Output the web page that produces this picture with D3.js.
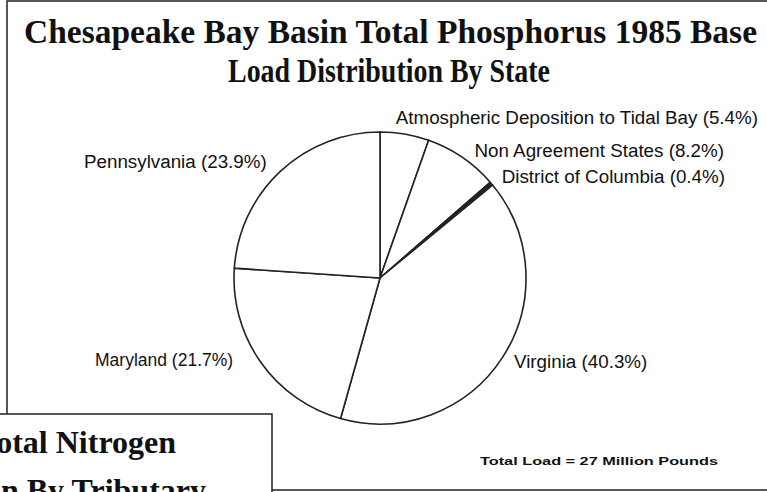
<!DOCTYPE html>
<html>
<head>
<meta charset="utf-8">
<script src="https://cdn.jsdelivr.net/npm/d3@7"></script>
<style>
  body { margin: 0; background: #fff; }
  svg { display: block; }
</style>
</head>
<body>
<svg id="chart" width="767" height="492"></svg>
<script>
// phosphorus share by state, clockwise from 12 o'clock
var states = ["Atmospheric Deposition to Tidal Bay", "Non Agreement States", "District of Columbia",
              "Virginia", "Maryland", "Pennsylvania"];
var shares = [5.4, 8.2, 0.4, 40.3, 21.7, 23.9];
var titleLines = ["Chesapeake Bay Basin Total Phosphorus 1985 Base", "Load Distribution By State"];
var totalNote = "Total Load = 27 Million Pounds";
var nextTitle = ["Chesapeake Bay Basin Total Nitrogen", "1985 Base Load Distribution By Tributary"];

// where each label sits (hand placed, like the original)
var labelPos = {
  "Atmospheric Deposition to Tidal Bay": [758, 124, "end"],
  "Non Agreement States": [724, 157, "end"],
  "District of Columbia": [725, 183, "end"],
  "Virginia": [514, 368, "start"],
  "Maryland": [95, 366, "start"],
  "Pennsylvania": [84, 168, "start"]
};

var data = states.map((d, i) => ({ name: d, value: shares[i] }));

var svg = d3.select("#chart");

// main frame
svg.append("rect")
    .attr("x", 7).attr("y", 1)
    .attr("width", 800).attr("height", 489)
    .attr("fill", "#fff")
    .attr("stroke", "#222").attr("stroke-width", 1.5);

// title
svg.selectAll("text.title")
    .data(titleLines)
    .enter()
    .append("text")
    .attr("class", "title")
    .attr("x", (d, i) => i == 0 ? 24 : 228)
    .attr("y", (d, i) => 43 + i * 39)
    .attr("textLength", (d, i) => i == 0 ? 733 : 322)
    .attr("lengthAdjust", "spacingAndGlyphs")
    .style("font-family", "'Liberation Serif', 'DejaVu Serif', serif")
    .style("font-weight", "bold")
    .style("font-size", "34px")
    .attr("fill", "#111")
    .text(d => d);

// pie
var cx = 380, cy = 278, r = 146;

var pie = d3.pie()
    .sort(null)
    .value(d => d.value);

var arc = d3.arc()
    .innerRadius(0)
    .outerRadius(r);

var pieG = svg.append("g")
    .attr("transform", "translate(" + cx + "," + cy + ")");

pieG.selectAll("path")
    .data(pie(data))
    .enter()
    .append("path")
    .attr("d", arc)
    .attr("fill", d => d.data.value < 1 ? "#222" : "#fff")
    .attr("stroke", "#222")
    .attr("stroke-width", 1.6)
    .attr("stroke-linejoin", "round");

// labels
svg.selectAll("text.label")
    .data(data)
    .enter()
    .append("text")
    .attr("class", "label")
    .attr("x", d => labelPos[d.name][0])
    .attr("y", d => labelPos[d.name][1])
    .attr("text-anchor", d => labelPos[d.name][2])
    .style("font-family", "'Liberation Sans', Arial, sans-serif")
    .style("font-size", d => d.name == "Maryland" ? "17.5px" : "18.8px")
    .attr("fill", "#111")
    .text(d => d.name + " (" + d3.format(".1f")(d.value) + "%)");

svg.append("text")
    .attr("x", 480).attr("y", 465)
    .attr("textLength", 238)
    .attr("lengthAdjust", "spacingAndGlyphs")
    .style("font-family", "'Liberation Sans', Arial, sans-serif")
    .style("font-weight", "bold")
    .style("font-size", "11.5px")
    .attr("fill", "#111")
    .text(totalNote);

// the next figure's frame overlapping the bottom left
svg.append("rect")
    .attr("x", -20).attr("y", 414)
    .attr("width", 292).attr("height", 120)
    .attr("fill", "#fff")
    .attr("stroke", "#222").attr("stroke-width", 1.5);

svg.selectAll("text.next")
    .data(nextTitle)
    .enter()
    .append("text")
    .attr("class", "next")
    .attr("x", (d, i) => i == 0 ? 176 : 206)
    .attr("y", (d, i) => 453 + i * 48)
    .attr("text-anchor", "end")
    .style("font-family", "'Liberation Serif', 'DejaVu Serif', serif")
    .style("font-weight", "bold")
    .style("font-size", "32px")
    .attr("fill", "#111")
    .text(d => d);
</script>
</body>
</html>
